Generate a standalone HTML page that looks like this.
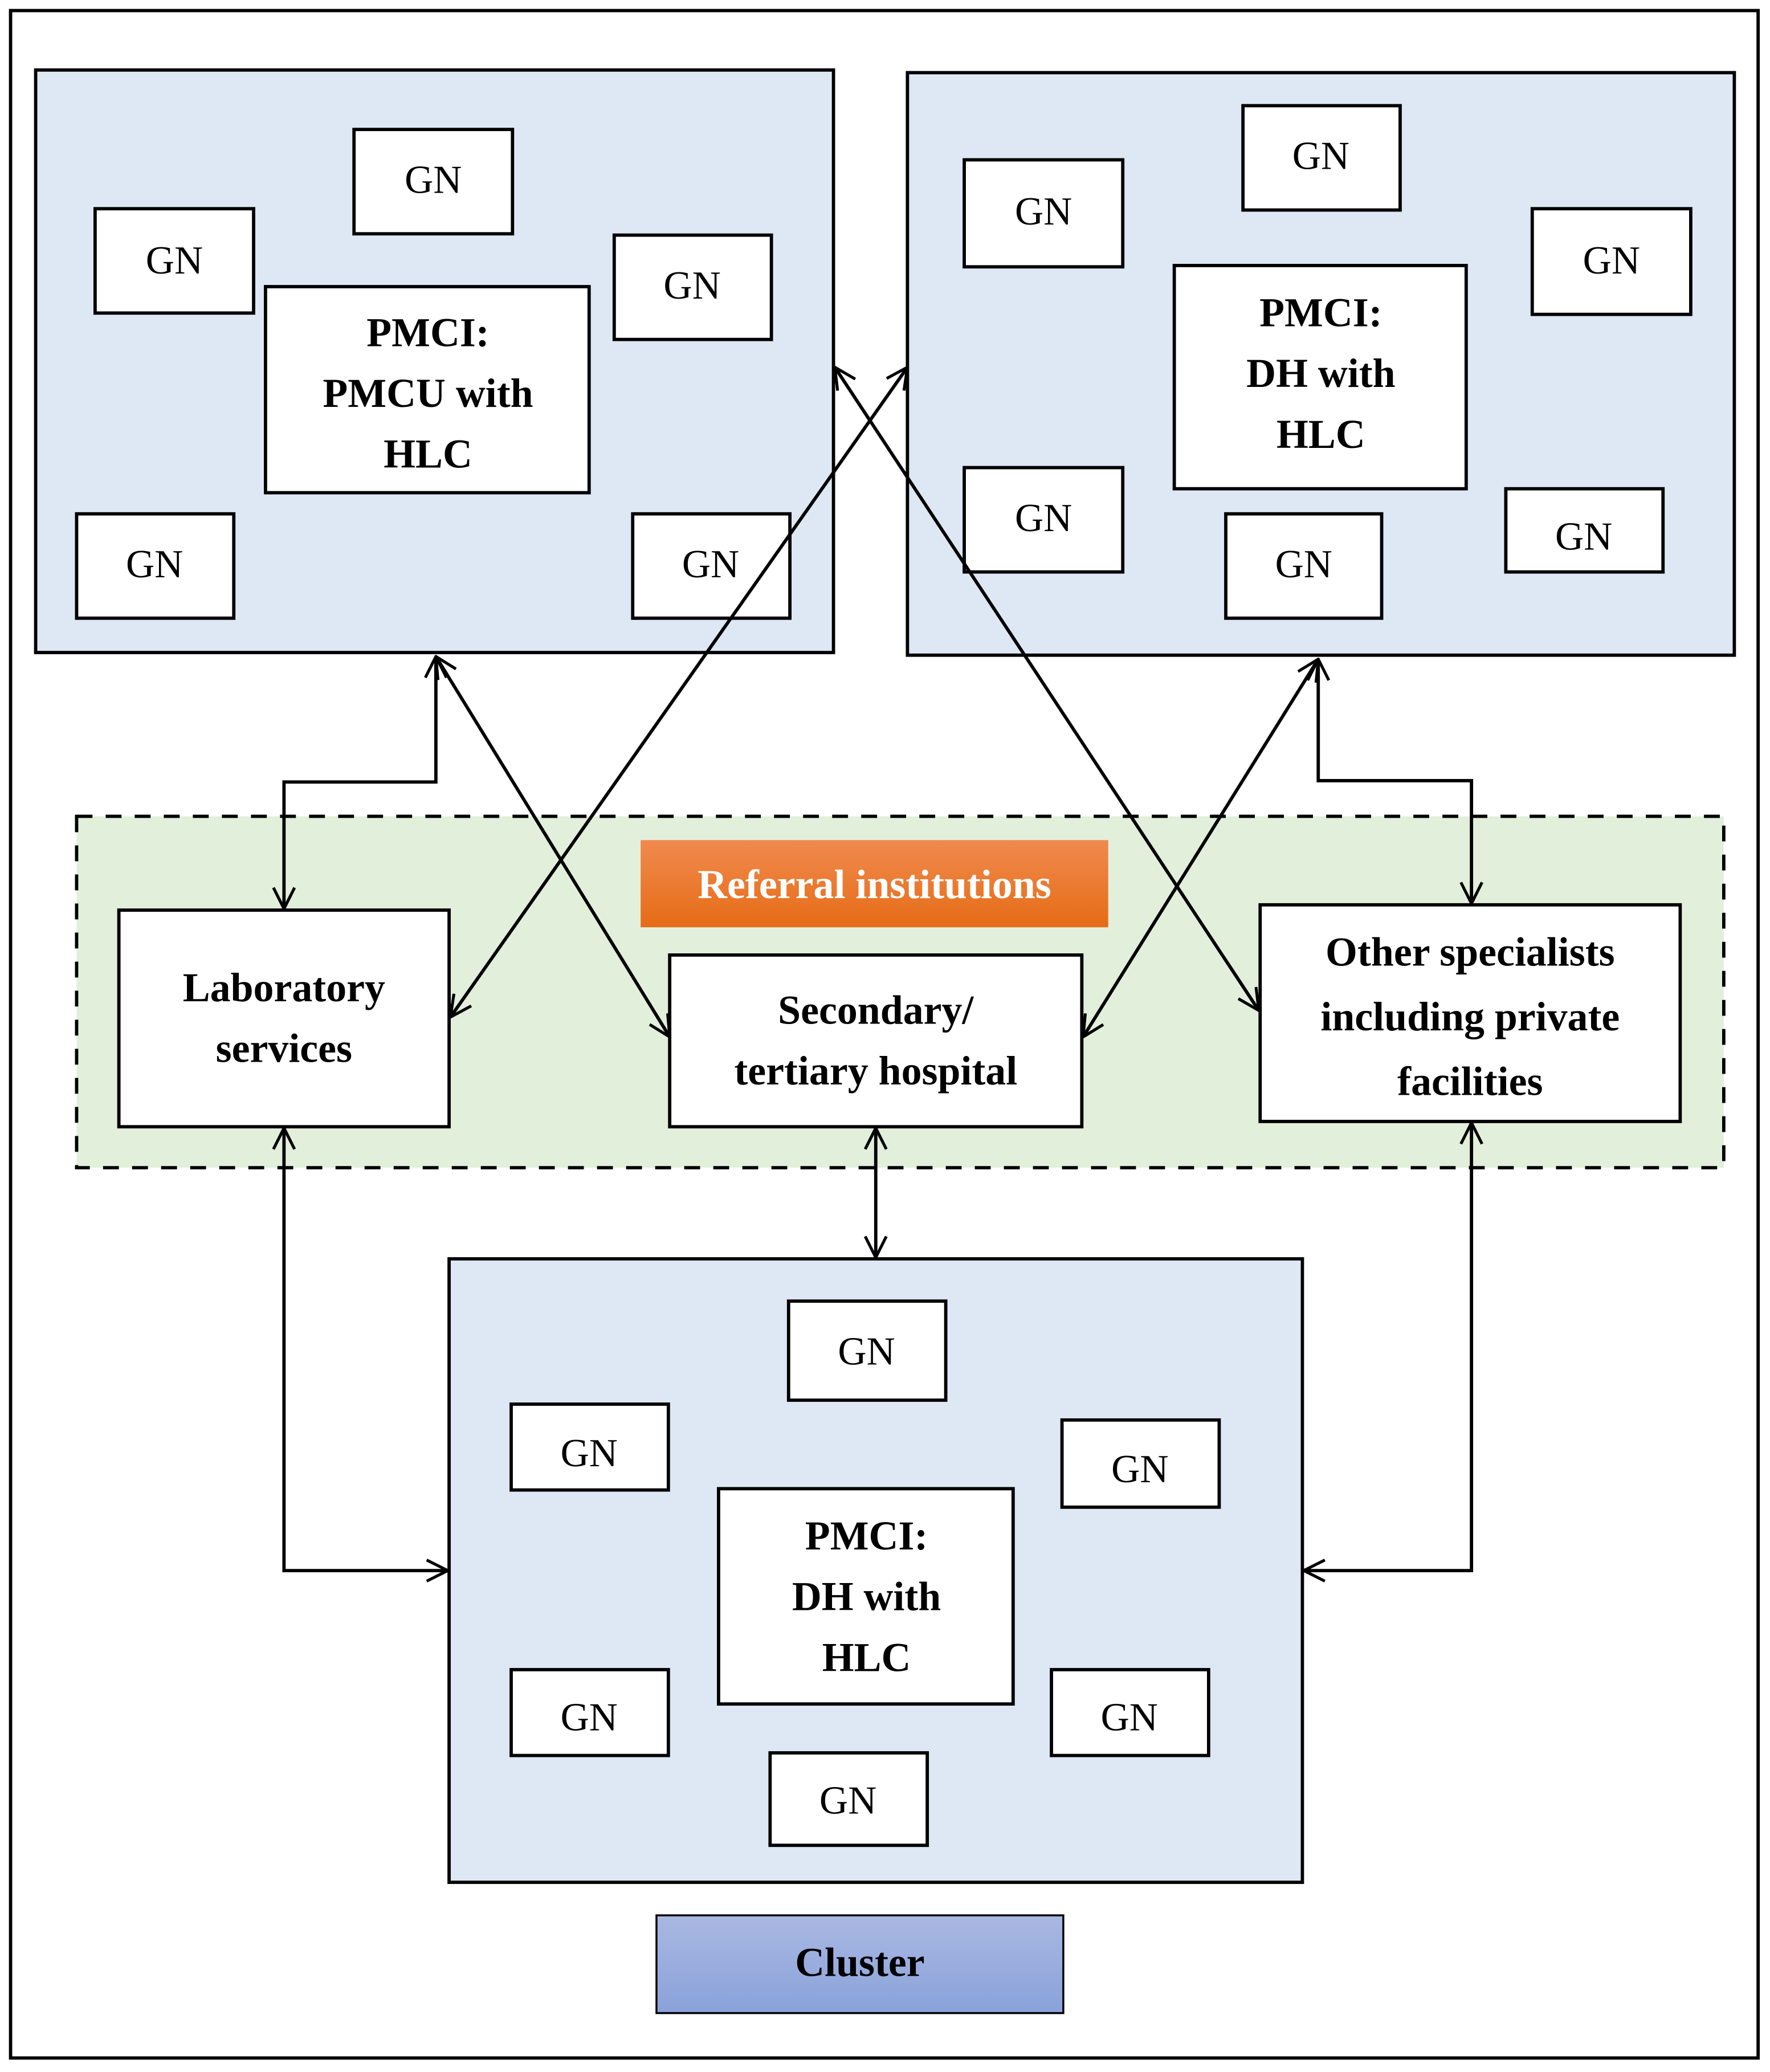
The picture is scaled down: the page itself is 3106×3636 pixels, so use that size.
<!DOCTYPE html>
<html><head><meta charset="utf-8"><style>html,body{margin:0;padding:0;background:#fff}svg{display:block}</style></head>
<body>
<svg width="3106" height="3636" viewBox="0 0 1340 1568.6" preserveAspectRatio="none" xmlns="http://www.w3.org/2000/svg" font-family="'Liberation Serif', serif">
<defs>
<linearGradient id="og" x1="0" y1="0" x2="0" y2="1"><stop offset="0" stop-color="#f08a4e"/><stop offset="1" stop-color="#e66c16"/></linearGradient>
<linearGradient id="bg" x1="0" y1="0" x2="0" y2="1"><stop offset="0" stop-color="#a9b8e2"/><stop offset="1" stop-color="#8aa2da"/></linearGradient>
<marker id="a" viewBox="0 0 18 18" refX="17" refY="9" markerWidth="18" markerHeight="18" markerUnits="userSpaceOnUse" orient="auto-start-reverse"><path d="M1,1 L17,9 L1,17" fill="none" stroke="#000" stroke-width="2.2"/></marker>
</defs>
<rect x="8" y="8" width="1323" height="1550" fill="#fff" stroke="#000" stroke-width="2.5"/>
<g stroke="#000" stroke-width="2.5">
<rect x="27" y="53" width="604" height="441" fill="#dee8f5"/>
<rect x="687" y="55" width="626" height="441" fill="#dee8f5"/>
<rect x="340" y="953" width="646" height="472" fill="#dee8f5"/>
<rect x="58" y="618" width="1247" height="266" fill="#e2efdb" stroke-dasharray="12,10"/>
</g>
<g fill="#fff" stroke="#000" stroke-width="2.5">
<rect x="268" y="98" width="120" height="79"/><rect x="72" y="158" width="120" height="79"/><rect x="465" y="178" width="119" height="79"/><rect x="58" y="389" width="119" height="79"/><rect x="479" y="389" width="119" height="79"/><rect x="201" y="217" width="245" height="156"/>
<rect x="941" y="80" width="119" height="79"/><rect x="730" y="121" width="120" height="81"/><rect x="1160" y="158" width="120" height="80"/><rect x="730" y="354" width="120" height="79"/><rect x="928" y="389" width="118" height="79"/><rect x="1140" y="370" width="119" height="63"/><rect x="889" y="201" width="221" height="169"/>
<rect x="597" y="985" width="119" height="75"/><rect x="387" y="1063" width="119" height="65"/><rect x="804" y="1075" width="119" height="66"/><rect x="387" y="1264" width="119" height="65"/><rect x="796" y="1264" width="119" height="65"/><rect x="583" y="1327" width="119" height="70"/><rect x="544" y="1127" width="223" height="163"/>
<rect x="90" y="689" width="250" height="164"/><rect x="507" y="723" width="312" height="130"/><rect x="954" y="685" width="318" height="164"/>
</g>
<rect x="485" y="636" width="354" height="66" fill="url(#og)"/>
<rect x="497" y="1450" width="308" height="74" fill="url(#bg)" stroke="#000" stroke-width="1.5"/>
<g fill="none" stroke="#000" stroke-width="2.5" marker-start="url(#a)" marker-end="url(#a)">
<polyline points="330,497 330,592 215,592 215,688"/>
<line x1="330" y1="497" x2="507" y2="785"/>
<line x1="341" y1="770" x2="687" y2="278"/>
<line x1="632" y1="278" x2="953" y2="765"/>
<line x1="820" y1="785" x2="998" y2="499"/>
<polyline points="998,499 998,591 1114,591 1114,684"/>
<polyline points="215,854 215,1189 339,1189"/>
<line x1="663" y1="854" x2="663" y2="952"/>
<polyline points="1114,850 1114,1189 987,1189"/>
</g>
<g font-size="30" text-anchor="middle" fill="#000">
<text x="328" y="146">GN</text><text x="132" y="207">GN</text><text x="524" y="226">GN</text><text x="117" y="437">GN</text><text x="538" y="437">GN</text>
<text x="1000" y="128">GN</text><text x="790" y="170">GN</text><text x="1220" y="207">GN</text><text x="790" y="402">GN</text><text x="987" y="437">GN</text><text x="1199" y="416">GN</text>
<text x="656" y="1033">GN</text><text x="446" y="1110">GN</text><text x="863" y="1122">GN</text><text x="446" y="1310">GN</text><text x="855" y="1310">GN</text><text x="642" y="1373">GN</text>
</g>
<g font-size="31" font-weight="bold" text-anchor="middle" fill="#000">
<text x="324" y="262">PMCI:</text><text x="324" y="308">PMCU with</text><text x="324" y="354">HLC</text>
<text x="1000" y="247">PMCI:</text><text x="1000" y="293">DH with</text><text x="1000" y="339">HLC</text>
<text x="656" y="1173">PMCI:</text><text x="656" y="1219">DH with</text><text x="656" y="1265">HLC</text>
<text x="215" y="758">Laboratory</text><text x="215" y="804">services</text>
<text x="663" y="775">Secondary/</text><text x="663" y="821">tertiary hospital</text>
<text x="1113" y="731">Other specialists</text><text x="1113" y="780">including private</text><text x="1113" y="829">facilities</text>
<text x="662" y="680" fill="#fff">Referral institutions</text>
<text x="651" y="1496">Cluster</text>
</g>
</svg>
</body></html>
